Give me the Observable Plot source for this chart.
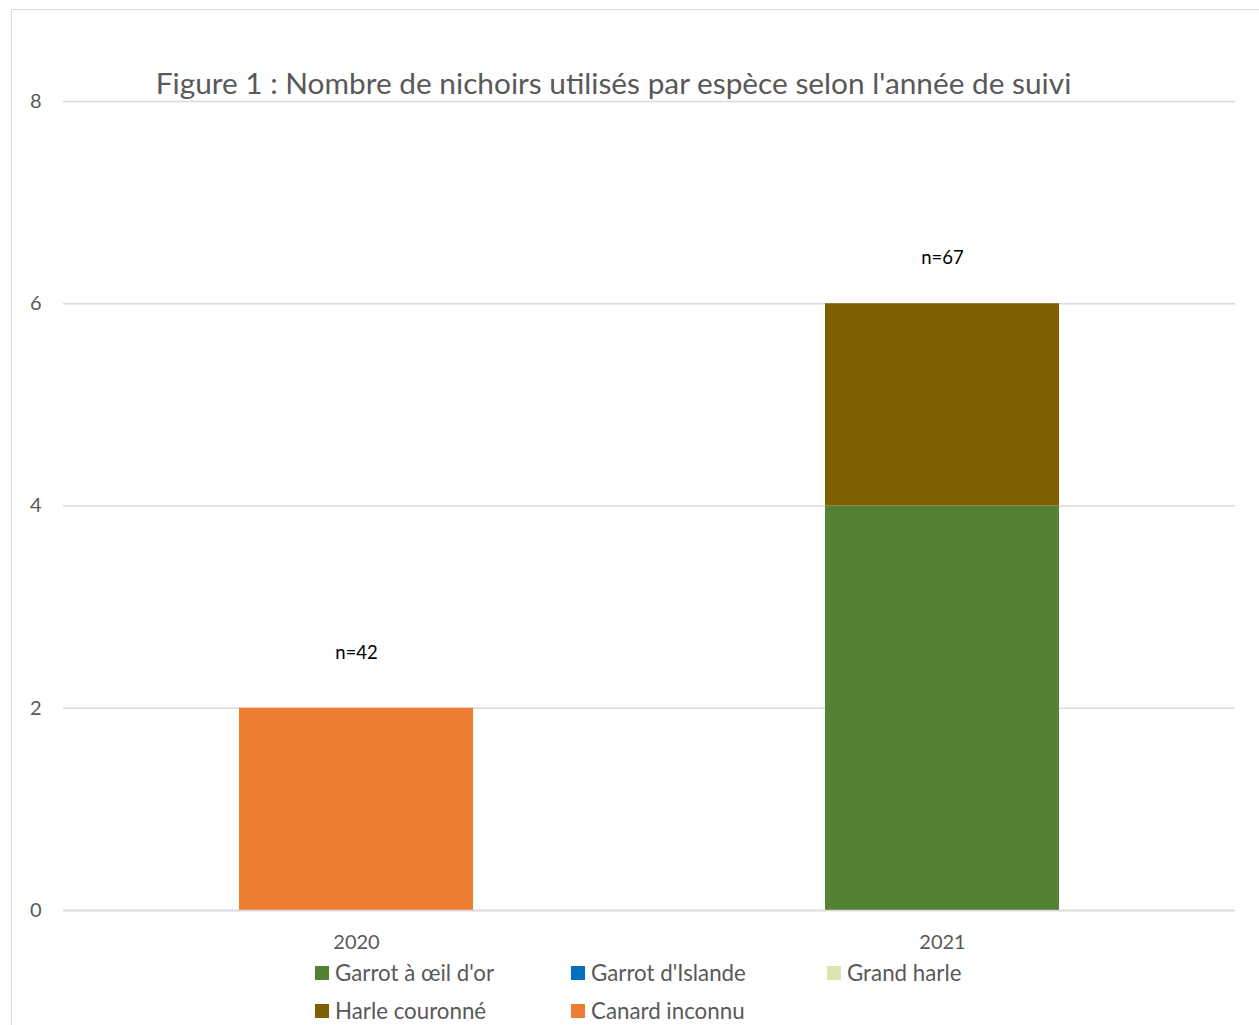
<!DOCTYPE html>
<html>
<head>
<meta charset="utf-8">
<script src="https://cdn.jsdelivr.net/npm/d3@7"></script>
<script src="https://cdn.jsdelivr.net/npm/@observablehq/plot@0.6"></script>
<style>
  html, body { margin: 0; padding: 0; background: #fff; overflow: hidden; width: 1259px; height: 1025px; }
  body { position: relative; font-family: Lato, "Open Sans", sans-serif; }
  #frame { position: absolute; left: 11px; top: 9px; width: 1400px; height: 1200px; border: 1.5px solid #d9d9d9; box-sizing: border-box; }
  #chart { position: absolute; left: 0; top: 0; }
  #title { position: absolute; left: 0; width: 1227px; top: 64px; text-align: center; font-size: 29.8px; color: #595959; line-height: 38px; white-space: nowrap; }
  .leg { position: absolute; font-size: 22.3px; color: #595959; line-height: 26px; white-space: nowrap; display: flex; align-items: center; }
  .sw { display: inline-block; width: 14px; height: 14px; margin-right: 6px; }
</style>
</head>
<body>
<div id="frame"></div>
<div id="chart"></div>
<div id="title">Figure 1 : Nombre de nichoirs utilisés par espèce selon l'année de suivi</div>
<div id="legend"></div>
<script>
const years = ["2020", "2021"];
const species = ["Garrot à œil d'or", "Garrot d'Islande", "Grand harle", "Harle couronné", "Canard inconnu"];
const speciesColors = ["#548235", "#0070C0", "#DAE5B2", "#7F6000", "#ED7D31"];
const garrotOeilOr = [0, 4];
const garrotIslande = [0, 0];
const grandHarle = [0, 0];
const harleCouronne = [0, 2];
const canardInconnu = [2, 0];
const nLabels = ["n=42", "n=67"];
const nLabelY = [2.55, 6.45];
const yTicks = [0, 2, 4, 6, 8];

const seriesValues = [garrotOeilOr, garrotIslande, grandHarle, harleCouronne, canardInconnu];
const rows = [];
species.forEach((s, i) => years.forEach((y, j) => rows.push({year: y, species: s, value: seriesValues[i][j]})));
const labels = years.map((y, j) => ({year: y, ly: nLabelY[j], label: nLabels[j]}));

const plot = Plot.plot({
  width: 1259,
  height: 1025,
  marginLeft: 63,
  marginRight: 24,
  marginTop: 101,
  marginBottom: 115,
  style: {fontFamily: "Lato, 'Open Sans', sans-serif", background: "transparent"},
  x: {domain: years, paddingInner: 0.6, paddingOuter: 0.3, label: null},
  y: {domain: [0, 8], label: null},
  color: {domain: species, range: speciesColors},
  marks: [
    Plot.gridY(yTicks, {stroke: "#d9d9d9", strokeOpacity: 1, strokeWidth: 1.5}),
    Plot.barY(rows.filter(d => d.value > 0), {x: "year", y: "value", fill: "species", order: species}),
    Plot.ruleY([0], {stroke: "#d9d9d9", strokeWidth: 1.5}),
    Plot.axisY({ticks: yTicks, tickSize: 0, tickPadding: 22, fontSize: 20, fill: "#595959", label: null}),
    Plot.axisX({tickSize: 0, tickPadding: 24, fontSize: 20, fill: "#595959", label: null}),
    Plot.text(labels, {x: "year", y: "ly", text: "label", fontSize: 18.5, fill: "#000"})
  ]
});
document.getElementById("chart").appendChild(plot);

const legend = document.getElementById("legend");
const legPos = [[315, 973], [571, 973], [827, 973], [315, 1011], [571, 1011]];
species.forEach((s, i) => {
  const el = document.createElement("div");
  el.className = "leg";
  el.style.left = legPos[i][0] + "px";
  el.style.top = (legPos[i][1] - 13) + "px";
  el.innerHTML = `<span class="sw" style="background:${speciesColors[i]}"></span>${s}`;
  legend.appendChild(el);
});
</script>
</body>
</html>
